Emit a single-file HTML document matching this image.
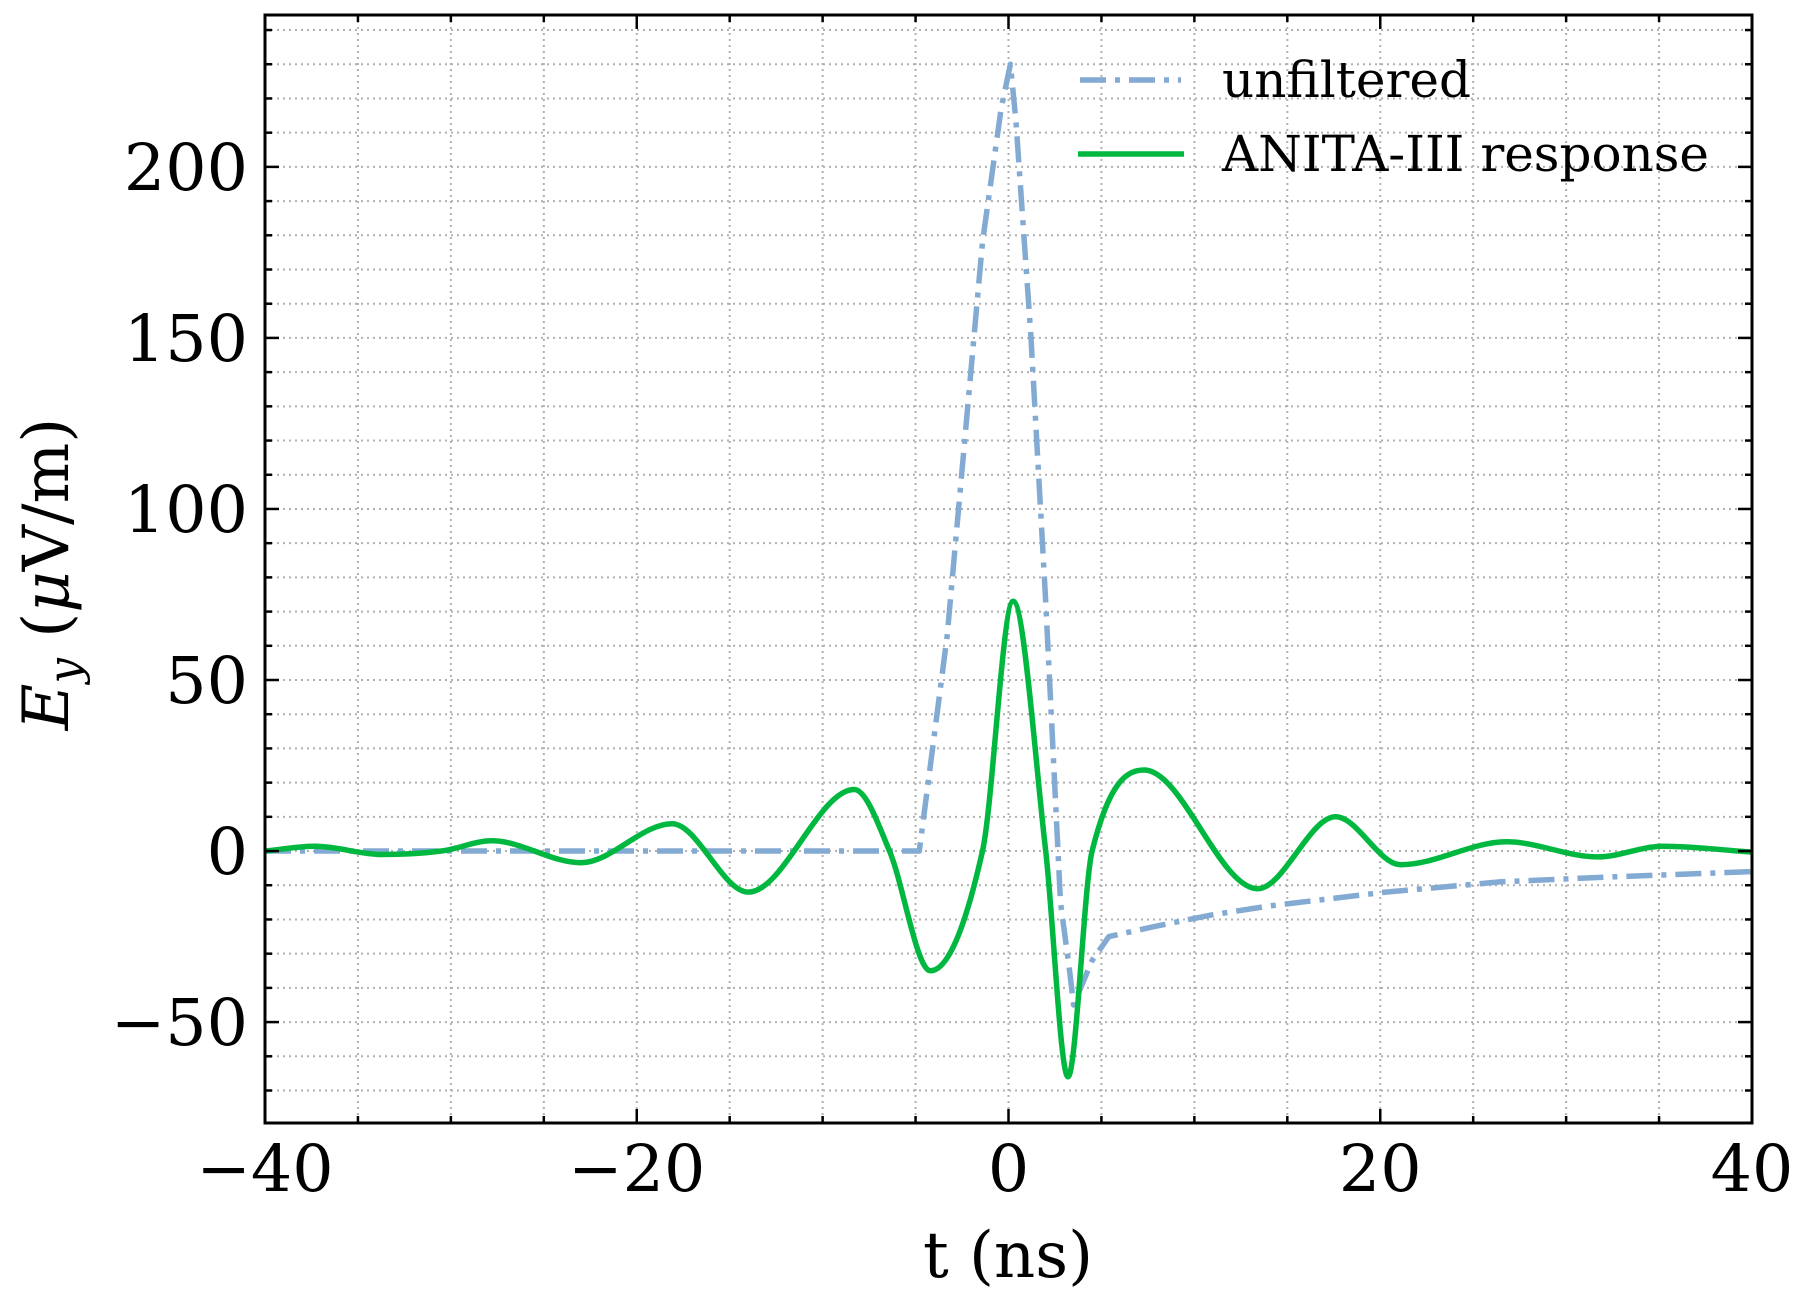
<!DOCTYPE html>
<html><head><meta charset="utf-8"><style>
html,body{margin:0;padding:0;background:#fff;}
svg{display:block;font-family:"DejaVu Serif","Liberation Serif",serif;}
</style></head><body>
<svg id="chart" width="1809" height="1300" viewBox="0 0 1809 1300" xmlns="http://www.w3.org/2000/svg">
<g id="grid"></g>
<g id="series"></g>
<g id="ticks"></g>
<rect x="265" y="15" width="1487" height="1108" fill="none" stroke="#000" stroke-width="3"/>
<g id="labels"></g>
<text x="1008" y="1277" font-size="64" text-anchor="middle">t (ns)</text>
<text transform="translate(68,574) rotate(-90)" font-size="64" text-anchor="middle"><tspan font-style="italic">E</tspan><tspan font-style="italic" font-size="45" dy="12">y</tspan><tspan dy="-12"> (</tspan><tspan font-style="italic">μ</tspan><tspan>V/m)</tspan></text>
<g>
<line x1="1080" y1="80" x2="1181" y2="80" stroke="#82aad2" stroke-width="5.5" stroke-dasharray="26,9,5,9"/>
<text x="1222" y="97" font-size="50" textLength="249" lengthAdjust="spacingAndGlyphs">unfiltered</text>
<line x1="1078" y1="154" x2="1184" y2="154" stroke="#00b840" stroke-width="5.5"/>
<text x="1222" y="171" font-size="50" textLength="487" lengthAdjust="spacingAndGlyphs">ANITA-III response</text>
</g>
</svg>
<script>
const xTicks = [-40, -20, 0, 20, 40];
const yTicks = [-50, 0, 50, 100, 150, 200];
const xTickLabels = ["\u221240", "\u221220", "0", "20", "40"];
const yTickLabels = ["\u221250", "0", "50", "100", "150", "200"];
const respT = [-40, -37.3, -33.7, -30.5, -27.8, -23, -18.1, -14, -8.3, -6.4, -4.2, -1.4, 0.25, 2.0, 3.2, 4.5, 7.3, 13.4, 17.6, 21.1, 26.8, 31.7, 35.2, 40];
const respV = [0, 1.4, -1, 0, 3, -3.4, 8, -12, 18, 0, -35, 0, 73, 0, -66, 0, 23.7, -11, 10, -4, 2.7, -1.7, 1.4, -0.3];
const unfT = [-40, -4.8, -3.3, -1.4, -0.4, 0.1, 0.4, 1.2, 2.0, 2.8, 3.3, 3.5, 4.5, 5.4, 7.9, 11, 14.1, 20.3, 26.5, 32.7, 40];
const unfV = [0, 0, 63, 178, 217, 230, 213.5, 151, 73, -15, -35.5, -45, -32, -25, -22, -18.6, -16, -12, -9, -7.5, -6];

const L=265,R=1752,T=15,B=1123;
const X0=-40,X1=40,Y0=-79.5,Y1=244.4;
const sx=v=>L+(v-X0)/(X1-X0)*(R-L);
const sy=v=>B-(v-Y0)/(Y1-Y0)*(B-T);
const NS="http://www.w3.org/2000/svg";
function mk(tag,parent,attrs){const e=document.createElementNS(NS,tag);for(const k in attrs)e.setAttribute(k,attrs[k]);parent.appendChild(e);return e;}
const grid=document.getElementById('grid'),ticks=document.getElementById('ticks'),labels=document.getElementById('labels'),series=document.getElementById('series');
for(let v=-35;v<40;v+=5){const x=sx(v);
 const g=mk('line',grid,{x1:x,x2:x,y1:T,y2:B,stroke:'#b0b0b0','stroke-width':2,'stroke-dasharray':'2,4'});
 
 
 const len=(v%20===0)?14:7;
 const t1=mk('line',ticks,{x1:x,x2:x,y1:B,y2:B-len,stroke:'#000','stroke-width':2.5});
 
 
 const t2=mk('line',ticks,{x1:x,x2:x,y1:T,y2:T+len,stroke:'#000','stroke-width':2.5});
 
 }
for(let v=-70;v<=240;v+=10){const y=sy(v);
 const g=mk('line',grid,{x1:L,x2:R,y1:y,y2:y,stroke:'#b0b0b0','stroke-width':2,'stroke-dasharray':'2,4'});
 
 
 const len=(v%50===0)?14:7;
 const t1=mk('line',ticks,{x1:L,x2:L+len,y1:y,y2:y,stroke:'#000','stroke-width':2.5});
 
 
 const t2=mk('line',ticks,{x1:R,x2:R-len,y1:y,y2:y,stroke:'#000','stroke-width':2.5});
 
 }
xTicks.forEach((v,i)=>{const t=mk('text',labels,{x:sx(v),y:1191,'font-size':65,'text-anchor':'middle'});t.textContent=xTickLabels[i];
 
 });
yTicks.forEach((v,i)=>{const t=mk('text',labels,{x:248,y:sy(v)+23,'font-size':65,'text-anchor':'end'});t.textContent=yTickLabels[i];
 
 });
let d='';unfT.forEach((t,i)=>{d+=(i?'L':'M')+sx(t).toFixed(1)+','+sy(unfV[i]).toFixed(1);});
const p1=mk('path',series,{d:d,fill:'none',stroke:'#82aad2','stroke-width':5.5,'stroke-dasharray':'26,9,5,9','stroke-linejoin':'round'});


const P=respT.map((t,i)=>[sx(t),sy(respV[i])]);
let d2='M'+P[0][0]+','+P[0][1];
for(let i=0;i<P.length-1;i++){const p0=P[Math.max(0,i-1)],a=P[i],b=P[i+1],p3=P[Math.min(P.length-1,i+2)];
 const isExt=(k)=>k>0&&k<P.length-1&&((P[k][1]-P[k-1][1])*(P[k+1][1]-P[k][1])<=0);
 let m1=isExt(i)?0:(b[1]-p0[1])/(b[0]-p0[0]);
 let m2=isExt(i+1)?0:(p3[1]-a[1])/(p3[0]-a[0]);
 const h=(b[0]-a[0])/3;
 d2+='C'+(a[0]+h).toFixed(1)+','+(a[1]+m1*h).toFixed(1)+' '+(b[0]-h).toFixed(1)+','+(b[1]-m2*h).toFixed(1)+' '+b[0].toFixed(1)+','+b[1].toFixed(1);}
const p2=mk('path',series,{d:d2,fill:'none',stroke:'#00b840','stroke-width':5.5,'stroke-linejoin':'round'});


</script>
</body></html>
